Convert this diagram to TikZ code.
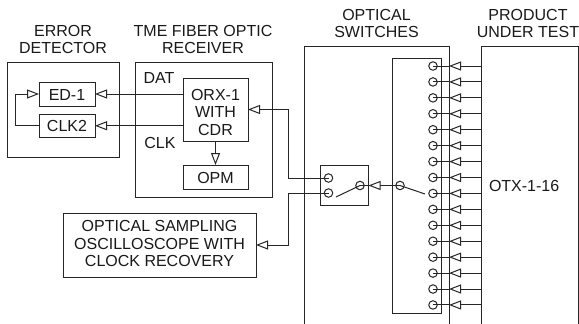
\documentclass[tikz,border=0pt]{standalone}
\usepackage{fontspec}
\setmainfont{Liberation Sans}
\usetikzlibrary{arrows.meta}
\tikzset{
  x=1pt,y=-1pt,
  every node/.style={font=\fontsize{16}{17.6}\selectfont,align=center,inner sep=0pt,outer sep=0pt},
  line/.style={draw=black!85,line width=1pt},
  box/.style={line,anchor=north west,fill=white},
  arr/.style={line,-{Triangle[length=12pt,width=9pt,fill=white]}},
  port/.style={circle,draw=black!85,line width=1pt,minimum size=8.5pt},
  lbl/.style={text=black!90}
}
\begin{document}
\begin{tikzpicture}
\useasboundingbox (0,0) rectangle (579,324);
% titles
\node[lbl] (t1) at (63,39.5) {ERROR\\DETECTOR};
\node[lbl] (t2) at (203,39.5) {TME FIBER OPTIC\\RECEIVER};
\node[lbl] (t3) at (376.5,23.5) {OPTICAL\\SWITCHES};
\node[lbl] (t4) at (528,23.5) {PRODUCT\\UNDER TEST};
% outer boxes
\node[box,minimum width=112pt,minimum height=95pt] (edb) at (7,62) {};
\node[box,minimum width=137pt,minimum height=135pt] (rxb) at (135,62) {};
\coordinate (swtl) at (304,46);
\coordinate (swtr) at (449,46);
\coordinate (prtl) at (481,46);
\coordinate (prtr) at (578,46);
\draw[line] (304,325) -- (swtl) -- (swtr) -- (449,325);
\draw[line] (481,325) -- (prtl) -- (prtr) -- (578,325);
% inner boxes
\node[box,minimum width=56pt,minimum height=24pt,lbl,draw=black!85] (ed) at (39,82) {\rule{0pt}{13.5pt}ED-1};
\node[box,minimum width=56pt,minimum height=23.5pt,lbl,draw=black!85] (clk) at (39,114) {CLK2};
\node[box,minimum width=65pt,minimum height=63pt,lbl,draw=black!85] (orx) at (183,78) {\rule{0pt}{16.5pt}ORX-1\\WITH\\CDR};
\node[box,minimum width=65pt,minimum height=24pt,lbl,draw=black!85] (opm) at (183,165) {\rule{0pt}{13.5pt}OPM};
\node[box,minimum width=193pt,minimum height=64pt,lbl,draw=black!85] (osc) at (63,213) {OPTICAL SAMPLING\\OSCILLOSCOPE WITH\\CLOCK RECOVERY\rule[-3pt]{0pt}{3pt}};
\node[lbl] (dat) at (159,78) {DAT};
\node[lbl] (clkl) at (160,143) {CLK};
\node[lbl,anchor=west] (otx) at (489,186) {OTX-1-16};
\node[box,minimum width=48.5pt,minimum height=39.5pt] (sa) at (320,165.5) {};
\node[box,minimum width=49pt,minimum height=255pt] (sb) at (392,58) {};
% fan of 16 inputs
\foreach \i in {0,...,15}{
  \coordinate (p\i) at (433,{66+15.93*\i});
  \draw[arr] (481,{66+15.93*\i}) -- (449,{66+15.93*\i});
  \draw[line] (449,{66+15.93*\i}) -- (p\i);
  \node[port] (c\i) at (p\i) {};
}
% receiver links
\draw[arr] (orx.west |- ed.east) -- (ed.east);
\draw[arr] (orx.west |- clk.east) -- (clk.east);
\draw[arr] (orx.south) -- (opm.north);
\draw[arr] (clk.west) -- ++(-24,0) |- (ed.west);
% switch A
\coordinate (a1c) at (328.5,178);
\coordinate (a2c) at (328.5,193);
\coordinate (acc) at (360,185.5);
\coordinate (bcc) at (400,185.5);
\draw[arr] (a1c) -- (288,178) |- (orx.east);
\draw[arr] (a2c) -- (288,193) |- (osc.east);
\draw[arr] (bcc) -- (sa.east |- bcc);
\draw[line] (sa.east |- bcc) -- (acc);
\node[port] (a1) at (a1c) {};
\node[port] (a2) at (a2c) {};
\node[port] (ac) at (acc) {};
\node[port] (bc) at (bcc) {};
\coordinate (aarm) at (336,197);
\coordinate (barm) at (425,194);
\draw[line] (aarm) -- (acc);
\draw[line] (bcc) -- (barm);
\end{tikzpicture}
\end{document}
